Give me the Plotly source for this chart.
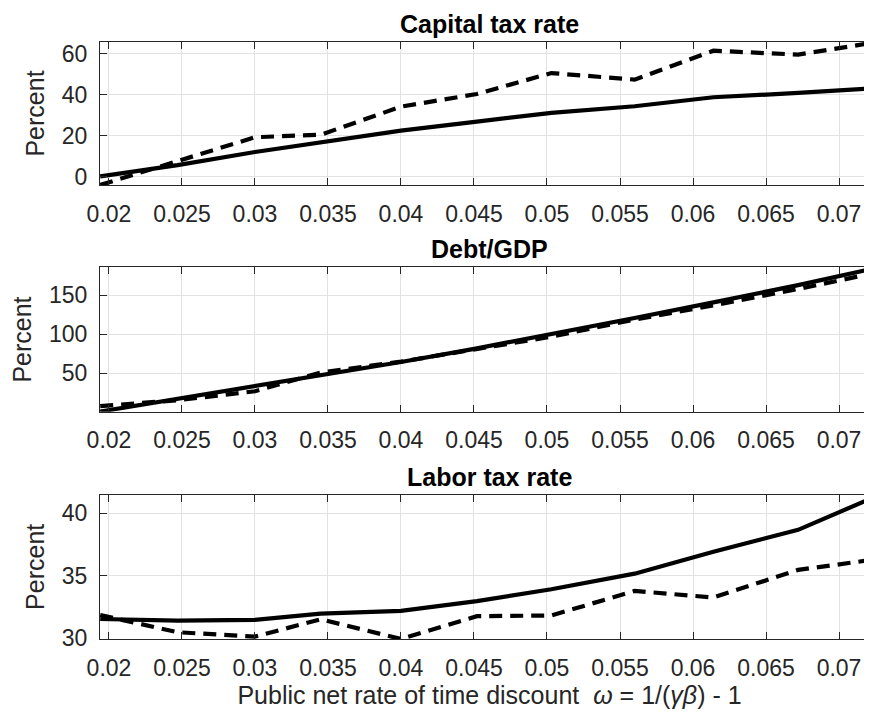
import plotly.graph_objects as go
from plotly.subplots import make_subplots

# ---- data ----
omega = [0.0194, 0.0247, 0.0300, 0.0345, 0.0400, 0.0452, 0.0503, 0.0560, 0.0614, 0.0672, 0.0728]

capital_solid = [0.3, 5.8, 12.2, 17.0, 22.6, 27.0, 31.3, 34.5, 38.9, 41.0, 43.4]
capital_dash = [-3.9, 7.8, 19.4, 20.6, 34.3, 40.5, 50.7, 47.5, 61.6, 59.7, 66.0]

debt_solid = [1.0, 17.0, 33.0, 47.5, 64.5, 82.0, 100.0, 121.0, 141.0, 163.0, 186.0]
debt_dash = [8.0, 15.5, 27.0, 51.0, 65.0, 81.0, 97.0, 119.0, 137.0, 158.0, 180.0]

labor_solid = [31.52, 31.39, 31.45, 31.95, 32.17, 32.95, 33.90, 35.15, 36.90, 38.66, 41.47]
labor_dash = [31.84, 30.46, 30.11, 31.50, 29.92, 31.75, 31.80, 33.77, 33.24, 35.45, 36.34]

x_ticks = [0.02, 0.025, 0.03, 0.035, 0.04, 0.045, 0.05, 0.055, 0.06, 0.065, 0.07]
x_tick_text = ["0.02", "0.025", "0.03", "0.035", "0.04", "0.045", "0.05", "0.055", "0.06", "0.065", "0.07"]

panel_titles = ["Capital tax rate", "Debt/GDP", "Labor tax rate"]
y_ticks = [[0, 20, 40, 60], [50, 100, 150], [30, 35, 40]]
y_ranges = [[-3.9, 65.85], [0.77, 185.9], [29.92, 41.47]]
x_range = [0.019384, 0.07274]

series = [(capital_solid, capital_dash), (debt_solid, debt_dash), (labor_solid, labor_dash)]

FONT = "Liberation Sans, Arial, Helvetica, sans-serif"
TXT = "#262626"

fig = make_subplots(rows=3, cols=1, shared_xaxes=False, vertical_spacing=0.05)

for i, (s, d) in enumerate(series):
    r = i + 1
    fig.add_trace(go.Scatter(x=omega, y=s, mode="lines",
                             line=dict(color="black", width=4.2), showlegend=False), row=r, col=1)
    fig.add_trace(go.Scatter(x=omega, y=d, mode="lines",
                             line=dict(color="black", width=4.2, dash="13px,8px"), showlegend=False), row=r, col=1)

domains = [[0.7605, 1.0], [0.3807, 0.6226], [0.0, 0.2417]]

axis_common = dict(
    ticks="inside", ticklen=7, tickwidth=1, tickcolor=TXT,
    showline=True, linecolor=TXT, linewidth=1, mirror="ticks",
    showgrid=True, gridcolor="#e2e2e2", gridwidth=1, zeroline=False,
    tickfont=dict(family=FONT, size=23, color=TXT), automargin=False,
)

for i in range(3):
    xa = "xaxis" if i == 0 else f"xaxis{i+1}"
    ya = "yaxis" if i == 0 else f"yaxis{i+1}"
    fig.layout[xa].update(range=x_range, tickvals=x_ticks, ticktext=x_tick_text,
                          ticklabelstandoff=8, **axis_common)
    fig.layout[ya].update(range=y_ranges[i], tickvals=y_ticks[i], domain=domains[i],
                          ticklabelstandoff=7,
                          title=dict(text="Percent", font=dict(family=FONT, size=25, color=TXT), standoff=10),
                          **axis_common)
    fig.add_annotation(text="<b>" + panel_titles[i] + "</b>", xref="paper", yref="paper",
                       x=0.5, y=domains[i][1], xanchor="center", yanchor="bottom", yshift=2,
                       showarrow=False, font=dict(family=FONT, size=25, color="black"))

fig.layout["xaxis3"].update(
    title=dict(text="Public net rate of time discount  <i>ω</i> = 1/(<i>γβ</i>) - 1",
               font=dict(family=FONT, size=25, color=TXT), standoff=6))

fig.update_layout(width=872, height=713, margin=dict(l=92, r=1, t=34, b=82),
                  plot_bgcolor="white", paper_bgcolor="white")

fig.write_html("out.html")
